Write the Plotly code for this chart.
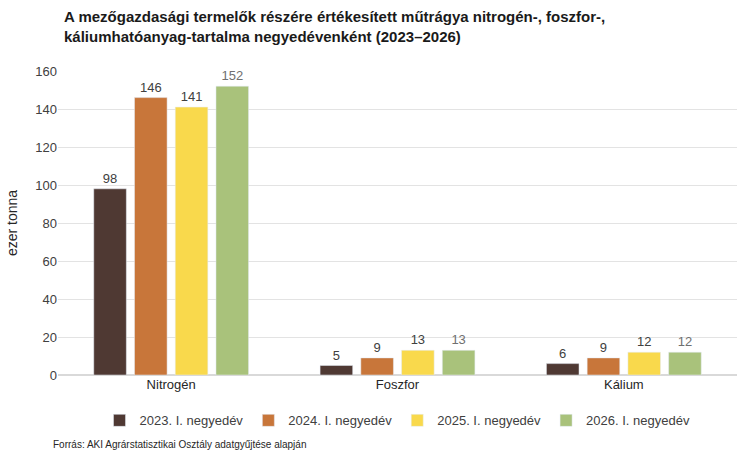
import plotly.graph_objects as go

categories = ["Nitrogén", "Foszfor", "Kálium"]
series_names = ["2023. I. negyedév", "2024. I. negyedév", "2025. I. negyedév", "2026. I. negyedév"]
v2023 = [98, 5, 6]
v2024 = [146, 9, 9]
v2025 = [141, 13, 12]
v2026 = [152, 13, 12]
values = [v2023, v2024, v2025, v2026]
colors = ["#4F3933", "#C8763A", "#F9D94C", "#A9C27B"]
label_colors = ["#404040", "#404040", "#404040", "#707070"]
y_ticks = [0, 20, 40, 60, 80, 100, 120, 140, 160]

fig = go.Figure()
for name, vals, col, lc in zip(series_names, values, colors, label_colors):
    fig.add_trace(go.Bar(
        x=categories, y=vals, name=name, marker_color=col,
        text=[str(v) for v in vals], textposition="outside",
        textfont=dict(size=13, color=lc, family="Liberation Sans, Arial"),
        cliponaxis=False,
    ))

fig.update_layout(
    width=750, height=458,
    paper_bgcolor="white", plot_bgcolor="white",
    margin=dict(l=58, r=13, t=71, b=83),
    barmode="group", bargap=0.28, bargroupgap=0.2,
    font=dict(family="Liberation Sans, Arial", size=13, color="#404040"),
    yaxis=dict(
        range=[0, 160], tickvals=y_ticks, showgrid=True, gridcolor="#E3E3E3",
        zeroline=True, zerolinecolor="#D9D9D9", ticks="", ticklen=0,
        title=dict(text="ezer tonna", font=dict(size=14, color="#262626"), standoff=14),
        tickfont=dict(size=13, color="#404040"),
    ),
    xaxis=dict(showline=False, ticks="", tickfont=dict(size=13, color="#262626")),
    legend=dict(orientation="h", x=0.5, xanchor="center", y=-0.1, yanchor="top",
                font=dict(size=13, color="#404040"), itemwidth=30, traceorder="normal"),
    showlegend=True,
)
fig.add_annotation(
    text="<b>A mezőgazdasági termelők részére értékesített műtrágya nitrogén-, foszfor-,<br>káliumhatóanyag-tartalma negyedévenként (2023–2026)</b>",
    xref="paper", yref="paper", x=0.006, y=1.215, xanchor="left", yanchor="top",
    align="left", showarrow=False,
    font=dict(size=15, color="#1a1a1a", family="Liberation Sans, Arial"),
)
fig.add_annotation(
    text="Forrás: AKI Agrárstatisztikai Osztály adatgyűjtése alapján",
    xref="paper", yref="paper", x=-0.01, y=-0.205, xanchor="left", yanchor="top",
    showarrow=False, font=dict(size=10, color="#262626"),
)

fig.write_html("out.html")
